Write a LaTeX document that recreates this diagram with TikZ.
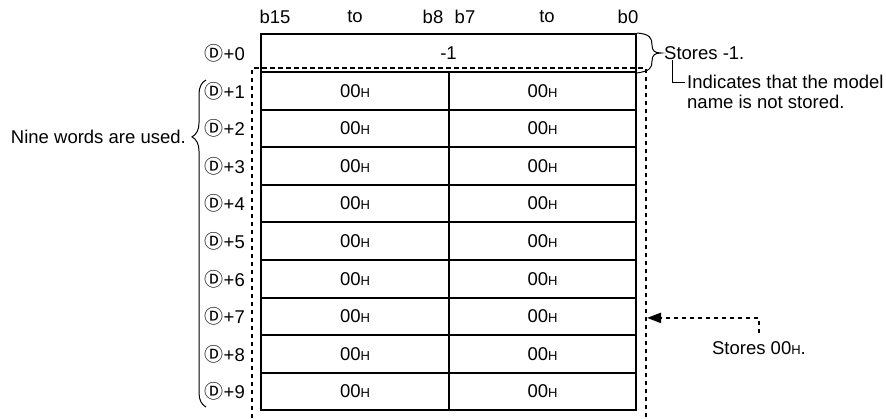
\documentclass[tikz,border=0pt]{standalone}
\usepackage{fontspec}
\setmainfont{Liberation Sans}
\newfontfamily\cjkfont{Noto Sans CJK JP}
\usetikzlibrary{arrows.meta,decorations.pathreplacing,calc}
\newcommand{\myH}{{\fontsize{13}{12}\selectfont H}}
\newcommand{\myD}{{\cjkfont\fontsize{19}{17}\selectfont Ⓓ}}
\begin{document}
\begin{tikzpicture}[x=1pt,y=-1pt,font=\fontsize{18.5}{20}\selectfont]
\tikzset{
  cell/.style={draw, line width=2pt, minimum height=37.6pt, inner sep=0pt},
  dotline/.style={line width=2.2pt, dash pattern=on 4.5pt off 3.5pt},
  thinline/.style={line width=1pt},
  lbl/.style={inner sep=0pt},
}
\useasboundingbox (0,0) rectangle (886,418);
% header
\node[lbl] (h1) at (275,17) {b15};
\node[lbl] (h2) at (355,17) {to};
\node[lbl] (h3) at (433,17) {b8};
\node[lbl] (h4) at (465,17) {b7};
\node[lbl] (h5) at (547,17) {to};
\node[lbl] (h6) at (628,17) {b0};
% row 0
\node[cell, minimum width=375pt, minimum height=38pt] (R0) at (448.5,53) {-1};
\node[lbl, anchor=east] (D0) at (245,53) {\myD+0};
% rows 1..9
\foreach \i in {1,...,9}{
  \pgfmathsetmacro{\yc}{72+(\i-0.5)*37.6}
  \node[cell, minimum width=188pt] (L\i) at (355,\yc) {\raisebox{-3pt}{00\myH}};
  \node[cell, minimum width=187pt] (R\i) at (542.5,\yc) {\raisebox{-3pt}{00\myH}};
  \node[lbl, anchor=east] (D\i) at (245,\yc) {\myD+\i};
}
% dotted frame
\coordinate (fbl) at (252,418);
\coordinate (ftl) at (252,68.3);
\coordinate (ftr) at (646,68.3);
\coordinate (fbr) at (646,418);
\draw[dotline] (fbl) -- (ftl) -- (ftr) -- (fbr);
% left brace
\node[lbl, anchor=east] (nine) at (186,137) {Nine words are used.};
\draw[thinline, decorate, decoration={brace, amplitude=14pt, aspect=0.826}] (206,407) -- (206,80);
% right brace for row 0
\draw[thinline] (R0.north east) .. controls (650,34) and (652,38) .. (652,45)
  .. controls (652,51) and (655,53) .. (661,53)
  .. controls (655,53) and (652,55) .. (652,61)
  .. controls (652,68) and (650,71) .. (R0.south east);
\node[lbl, anchor=west] (s1) at (664,53) {Stores -1.};
\node[lbl, anchor=north west, align=left] (ind) at (687,75) {Indicates that the model\\name is not stored.};
\draw[thinline] ([xshift=8pt]s1.south west) |- ([xshift=-2pt,yshift=-7pt]ind.north west);
% arrow
\node[lbl] (s0) at (759,348) {Stores 00\myH.};
\coordinate (tip) at ($(R7.east)+(10,1.5)$);
\draw[dotline, -{Triangle[length=14pt,width=10pt]}] ([yshift=8pt]s0.north) |- (tip);
\end{tikzpicture}
\end{document}
